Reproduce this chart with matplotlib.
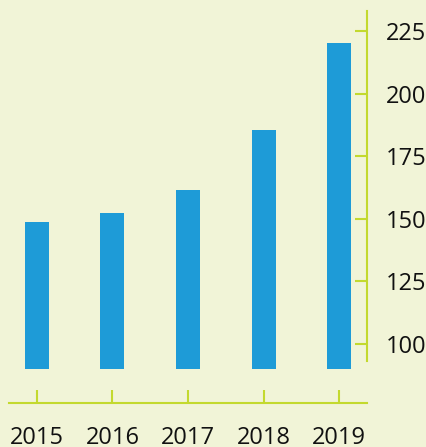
import matplotlib
matplotlib.use("Agg")
import matplotlib.pyplot as plt

plt.rcParams['font.family'] = ['Open Sans', 'DejaVu Sans']

years = [2015, 2016, 2017, 2018, 2019]
values = [148.7, 152.3, 161.5, 185.5, 220.2]
yticks = [100, 125, 150, 175, 200, 225]
base = 90

bg = '#f1f4d7'
bar_color = '#1e9bd7'
axis_color = '#c3d92e'

fig = plt.figure(figsize=(4.27, 4.47), dpi=100, facecolor=bg)
ax = fig.add_axes([9 / 427, 44 / 447, 358 / 427, 392 / 447])
ax.set_facecolor(bg)

ax.bar(years, [v - base for v in values], bottom=base, width=0.318, color=bar_color)

ax.set_xlim(2014.63, 2019.37)
ax.set_ylim(76.4, 233)

for s in ['top', 'left']:
    ax.spines[s].set_visible(False)
ax.spines['right'].set_color(axis_color)
ax.spines['right'].set_linewidth(1.5)
ax.spines['right'].set_bounds(93.2, 233)
ax.spines['bottom'].set_color(axis_color)
ax.spines['bottom'].set_linewidth(1.5)

ax.yaxis.tick_right()
ax.set_yticks(yticks)
ax.set_xticks(years)
ax.tick_params(axis='y', direction='in', length=9, width=1.5, color=axis_color,
               pad=13.5, labelsize=17, labelcolor='#111111')
ax.tick_params(axis='x', direction='in', length=9.4, width=1.5, color=axis_color,
               pad=16.5, labelsize=17, labelcolor='#111111')

fig.savefig('out.png', dpi=100, facecolor=bg)
